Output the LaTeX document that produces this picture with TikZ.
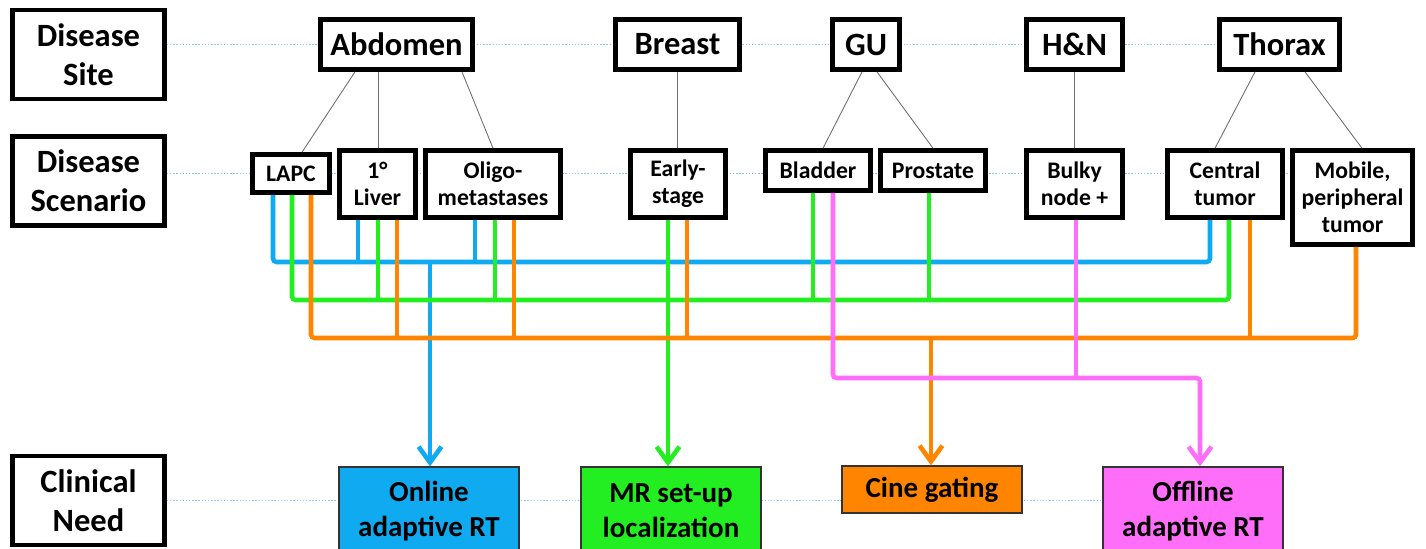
\documentclass[tikz,border=0pt]{standalone}
\usepackage{fontspec}
\setmainfont{Carlito}
\usepackage{tikz}
\usetikzlibrary{arrows.meta, backgrounds}
\definecolor{wireblue}{HTML}{0FAAF0}
\definecolor{wiregreen}{HTML}{22EE22}
\definecolor{wireorange}{HTML}{FF8400}
\definecolor{wirepink}{HTML}{FF6EF8}
\definecolor{guideblue}{HTML}{8CCBE3}
\definecolor{treegray}{HTML}{6E6E6E}
\definecolor{edgedark}{HTML}{333333}
\tikzset{
  % Row captions on the left
  rowlabel/.style={
    draw=black, fill=white, line width=2.7pt,
    minimum width=3.04cm, minimum height=1.78cm, inner sep=0pt,
    font=\fontsize{18.5}{22}\selectfont\bfseries, align=center,
  },
  % Disease sites (top row)
  sitebox/.style={
    draw=black, fill=white, line width=2.7pt,
    minimum width=#1, minimum height=1.0cm, inner sep=0pt,
    font=\fontsize{18.5}{22}\selectfont\bfseries,
  },
  % Disease scenarios (middle row)
  scenbox/.style={
    draw=black, fill=white, line width=2.6pt,
    minimum width=#1, inner sep=0pt,
    font=\fontsize{13.5}{15.5}\selectfont\bfseries, align=center,
  },
  % Clinical needs (bottom row)
  needbox/.style={
    draw=edgedark, fill=#1, line width=0.7pt,
    minimum width=3.6cm, minimum height=1.76cm, inner sep=0pt,
    font=\fontsize{16.5}{20}\selectfont\bfseries, align=center,
  },
  % Connectors
  wire/.style={draw=#1, line width=2.6pt, rounded corners=2pt},
  feed/.style={wire=#1, -{Straight Barb[length=9pt, width=13pt]}},
  tree/.style={draw=treegray, line width=0.5pt},
  guide/.style={draw=guideblue, line width=0.8pt, densely dotted},
}

\begin{document}
\begin{tikzpicture}[x=0.02cm, y=-0.02cm]
  \useasboundingbox (0,0) rectangle (1426,548);

  % row captions
  \node[rowlabel] (site) at (88.5,54.5) {Disease\\Site};
  \node[rowlabel] (scen) at (88.5,181) {Disease\\Scenario};
  \node[rowlabel] (need) at (88.5,500.5) {Clinical\\Need};

  % disease sites
  \node[sitebox=3.04cm] (abd) at (396.5,44.5) {Abdomen};
  \node[sitebox=2.48cm] (breast) at (677.5,44.5) {Breast};
  \node[sitebox=1.34cm] (gu) at (866,44.5) {GU};
  \node[sitebox=1.92cm] (hn) at (1074.5,44.5) {H\&N};
  \node[sitebox=2.4cm] (thorax) at (1279.5,44.5) {Thorax};

  % disease scenarios
  \node[scenbox=1.54cm, minimum height=0.76cm] (lapc) at (291,173.5) {LAPC};
  \node[scenbox=1.52cm, minimum height=1.34cm] (liver) at (377.5,184) {1°\\Liver};
  \node[scenbox=2.7cm, minimum height=1.34cm] (oligo) at (493,184) {Oligo-\\metastases};
  \node[scenbox=1.9cm, minimum height=1.34cm] (early) at (678,184) {Early-\\stage};
  \node[scenbox=2.1cm, minimum height=0.8cm] (bladder) at (818,170.5) {Bladder};
  \node[scenbox=2.1cm, minimum height=0.8cm] (prostate) at (933,170.5) {Prostate};
  \node[scenbox=1.92cm, minimum height=1.34cm] (bulky) at (1074.5,184) {Bulky\\node +};
  \node[scenbox=2.3cm, minimum height=1.34cm] (central) at (1225,184) {Central\\tumor};
  \node[scenbox=2.4cm, minimum height=1.88cm] (mobile) at (1352.5,197.5) {Mobile,\\peripheral\\tumor};

  % clinical needs
  \node[needbox=wireblue] (online) at (429,511) {Online\\adaptive RT};
  \node[needbox=wiregreen] (mrsetup) at (671,511) {MR set-up\\localization};
  \node[needbox=wireorange, minimum height=0.94cm] (cine) at (932,489.5) {Cine gating};
  \node[needbox=wirepink] (offline) at (1193,511) {Offline\\adaptive RT};

  \begin{scope}[on background layer]
    \draw[guide] (site.east |- abd.west) -- (thorax.west);
    \draw[guide] (scen.east |- lapc.west) -- (mobile.west |- lapc.west);
    \draw[guide] (need.east) -- (need.east -| offline.west);
  \end{scope}

  % site to scenario
  \draw[tree] (355,0 |- abd.south) -- (302,0 |- lapc.north);
  \draw[tree] (378,0 |- abd.south) -- (378,0 |- liver.north);
  \draw[tree] (462,0 |- abd.south) -- (493,0 |- oligo.north);
  \draw[tree] (677,0 |- breast.south) -- (677,0 |- early.north);
  \draw[tree] (862,0 |- gu.south) -- (823,0 |- bladder.north);
  \draw[tree] (877,0 |- gu.south) -- (933,0 |- prostate.north);
  \draw[tree] (1074,0 |- hn.south) -- (1074,0 |- bulky.north);
  \draw[tree] (1255,0 |- thorax.south) -- (1215,0 |- central.north);
  \draw[tree] (1305,0 |- thorax.south) -- (1362,0 |- mobile.north);

  % online adaptive RT
  \draw[wire=wireblue] (273,0 |- lapc.south) |- (1210,262) -- (1210,0 |- central.south);
  \foreach \x/\n in {358/liver, 475/oligo}
    \draw[wire=wireblue] (\x,0 |- \n.south) -- (\x,262);
  \draw[feed=wireblue] (430,262) -- (430,0 |- online.north);

  % MR set-up localization
  \draw[wire=wiregreen] (292,0 |- lapc.south) |- (1229,300) -- (1229,0 |- central.south);
  \foreach \x/\n in {378/liver, 495/oligo, 813/bladder, 929/prostate}
    \draw[wire=wiregreen] (\x,0 |- \n.south) -- (\x,300);
  \draw[feed=wiregreen] (668,0 |- early.south) -- (668,0 |- mrsetup.north);

  % cine gating
  \draw[wire=wireorange] (311,0 |- lapc.south) |- (1356,338) -- (1356,0 |- mobile.south);
  \foreach \x/\n in {397/liver, 514/oligo, 687/early, 1250/central}
    \draw[wire=wireorange] (\x,0 |- \n.south) -- (\x,338);
  \draw[feed=wireorange] (931,338) -- (931,0 |- cine.north);

  % offline adaptive RT
  \draw[wire=wirepink] (1076,0 |- bulky.south) -- (1076,378);
  \draw[feed=wirepink] (833,0 |- bladder.south) |- (1200,378) -- (1200,0 |- offline.north);
\end{tikzpicture}
\end{document}
